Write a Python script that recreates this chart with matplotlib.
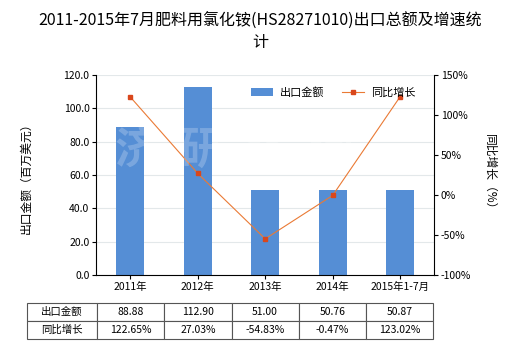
import matplotlib
matplotlib.use("Agg")
import matplotlib.pyplot as plt
import numpy as np

plt.rcParams['font.family'] = ['Noto Sans CJK SC', 'DejaVu Sans']

# 数据
years = ['2011年', '2012年', '2013年', '2014年', '2015年1-7月']
export_value = [88.88, 112.90, 51.00, 50.76, 50.87]
growth = [122.65, 27.03, -54.83, -0.47, 123.02]
value_labels = ['88.88', '112.90', '51.00', '50.76', '50.87']
growth_labels = ['122.65%', '27.03%', '-54.83%', '-0.47%', '123.02%']

bar_color = '#558ed5'
line_color = '#ea7a35'
marker_color = '#d9471c'

fig = plt.figure(figsize=(5.2, 3.5), dpi=100)
ax = fig.add_axes([0.1855, 0.2143, 0.649, 0.5714])
x = np.arange(len(years))

ax.bar(x, export_value, width=0.41, color=bar_color, label='出口金额', zorder=2)
ax.set_ylim(0, 120)
ax.set_yticks(np.arange(0, 121, 20))
ax.set_yticklabels([f'{v:.1f}' for v in np.arange(0, 121, 20)], fontsize=7.5)
ax.set_xlim(-0.5, len(years) - 0.5)
ax.set_xticks(x)
ax.set_xticklabels(years, fontsize=7.5)
ax.grid(axis='y', color='#e3e8ea', linewidth=0.8, zorder=0)
for s in ['top', 'right']:
    ax.spines[s].set_visible(False)
ax.tick_params(length=3, width=0.8, pad=2)
ax.set_ylabel('出口金额（百万美元）', fontsize=8.5, labelpad=22)

ax2 = ax.twinx()
ax2.plot(x, growth, color=line_color, marker='s', markersize=3.5, linewidth=0.8,
         markerfacecolor=marker_color, markeredgecolor=marker_color,
         label='同比增长', zorder=3)
ax2.set_ylim(-100, 150)
ax2.set_yticks(np.arange(-100, 151, 50))
ax2.set_yticklabels([f'{v}%' for v in np.arange(-100, 151, 50)], fontsize=7.5)
for s in ['top', 'left', 'bottom']:
    ax2.spines[s].set_visible(False)
ax2.tick_params(length=3, width=0.8, pad=2)
ax2.set_ylabel('同比增长（%）', fontsize=8.5, rotation=-90, labelpad=18)

# 水印
fig.text(0.45, 0.57, '济  研  咨  询', fontsize=32, color='white', alpha=0.22,
         ha='center', va='center', fontweight='bold', zorder=10)

h1, l1 = ax.get_legend_handles_labels()
h2, l2 = ax2.get_legend_handles_labels()
ax2.legend(h1 + h2, l1 + l2, loc='upper right', bbox_to_anchor=(0.975, 0.99),
           ncol=2, frameon=False, fontsize=8, handlelength=2.0, columnspacing=1.6,
           handletextpad=0.6)

fig.text(0.5, 0.94, '2011-2015年7月肥料用氯化铵(HS28271010)出口总额及增速统',
         fontsize=11.5, ha='center', va='center')
fig.text(0.5, 0.88, '计', fontsize=11.5, ha='center', va='center')

# 表格
tax = fig.add_axes([0.052, 0.031, 0.781, 0.103])
tax.axis('off')
cells = [['出口金额'] + value_labels, ['同比增长'] + growth_labels]
tb = tax.table(cellText=cells, bbox=[0, 0, 1, 1], cellLoc='center',
               colWidths=[70] + [67.2] * 5)
tb.auto_set_font_size(False)
tb.set_fontsize(7.5)
for (r, c), cell in tb.get_celld().items():
    cell.set_edgecolor('#555555')
    cell.set_linewidth(0.8)
    if c == 0:
        cell._loc = 'left'
        cell.PAD = 0.02

fig.savefig('out.png', dpi=100)
